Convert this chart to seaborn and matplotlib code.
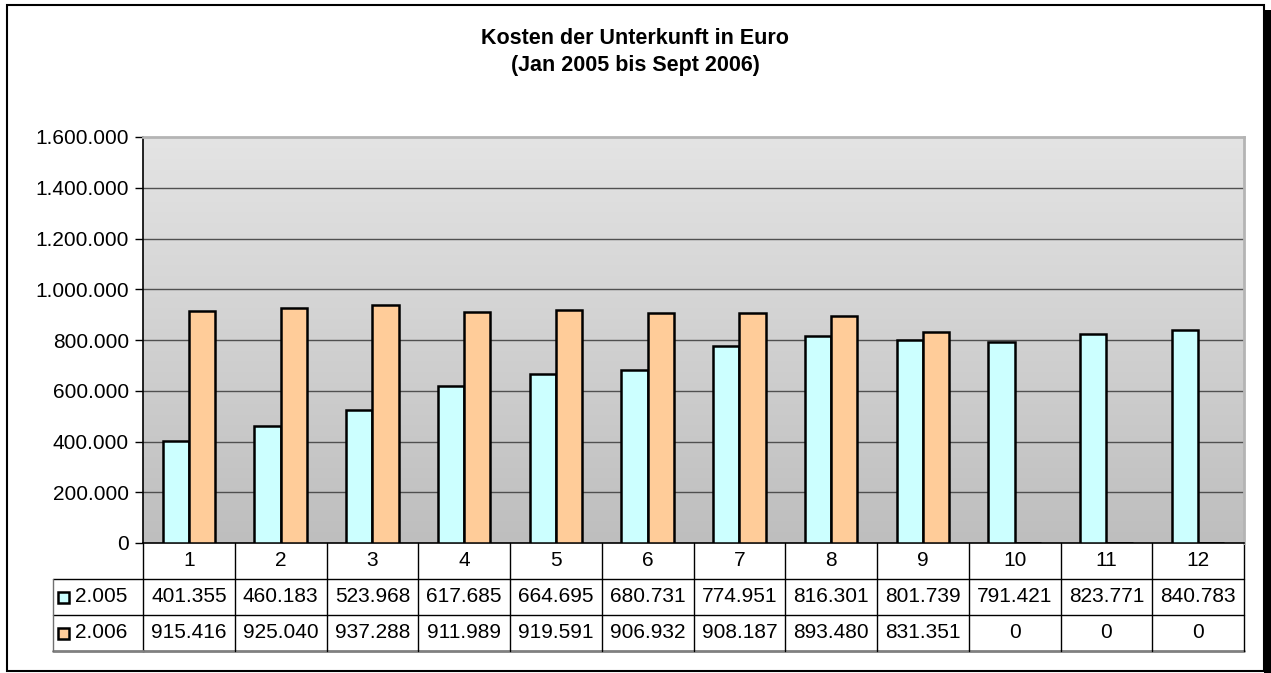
import numpy as np
import pandas as pd
import seaborn as sns
import matplotlib.pyplot as plt
from matplotlib.colors import LinearSegmentedColormap
from matplotlib.patches import Rectangle
from matplotlib.transforms import blended_transform_factory
from matplotlib.ticker import FuncFormatter

# data (Kosten der Unterkunft pro Monat)
monate = [1, 2, 3, 4, 5, 6, 7, 8, 9, 10, 11, 12]
kosten_2005 = [401355, 460183, 523968, 617685, 664695, 680731,
               774951, 816301, 801739, 791421, 823771, 840783]
kosten_2006 = [915416, 925040, 937288, 911989, 919591, 906932,
               908187, 893480, 831351, 0, 0, 0]
serien = ["2.005", "2.006"]
farben = ["#CCFFFF", "#FFCC99"]
y_ticks = [0, 200000, 400000, 600000, 800000, 1000000, 1200000, 1400000, 1600000]


def de_zahl(v):
    # deutsches tausender-trennzeichen
    return f"{int(v):,}".replace(",", ".")


df = pd.DataFrame({
    "monat": [str(m) for m in monate] * 2,
    "kosten": kosten_2005 + kosten_2006,
    "jahr": [serien[0]] * 12 + [serien[1]] * 12,
})

sns.set_style("white")
plt.rcParams["font.family"] = ["Liberation Sans", "DejaVu Sans"]
plt.rcParams["text.color"] = "black"

W, H = 1271, 673
fig = plt.figure(figsize=(W / 100, H / 100), dpi=100)

# plot area in pixel coordinates
left, right, top, bottom = 143, 1244, 137, 543
ax = fig.add_axes([left / W, 1 - bottom / H, (right - left) / W, (bottom - top) / H])

sns.barplot(data=df, x="monat", y="kosten", hue="jahr", palette=farben,
            saturation=1, edgecolor="black", linewidth=1.8, width=0.57, ax=ax,
            legend=False, zorder=3)

# gradient background, light at top, darker at bottom
grad = np.linspace(0, 1, 256).reshape(-1, 1)
cmap = LinearSegmentedColormap.from_list("g", ["#E4E4E4", "#BEBEBE"])
ax.imshow(grad, cmap=cmap, aspect="auto", origin="upper",
          extent=(-0.5, len(monate) - 0.5, 0, 1600000), zorder=0)
ax.set_xlim(-0.5, len(monate) - 0.5)
ax.set_ylim(0, 1600000)

ax.set_yticks(y_ticks)
ax.yaxis.set_major_formatter(FuncFormatter(lambda v, p: de_zahl(v)))
ax.tick_params(axis="y", labelsize=15, length=6, width=1, direction="out",
               left=True, pad=4, colors="black")
ax.set_xticks([])
ax.set_xlabel("")
ax.set_ylabel("")
for y in y_ticks[1:-1]:
    ax.axhline(y, color="#505050", lw=1, zorder=1)

ax.spines["left"].set_color("black")
ax.spines["left"].set_linewidth(1.2)
ax.spines["bottom"].set_color("black")
ax.spines["bottom"].set_linewidth(1.2)
ax.spines["top"].set_color("#B4B4B4")
ax.spines["top"].set_linewidth(2)
ax.spines["right"].set_color("#B4B4B4")
ax.spines["right"].set_linewidth(2)

# title
fig.text(635 / W, 1 - 52 / H, "Kosten der Unterkunft in Euro\n(Jan 2005 bis Sept 2006)",
         ha="center", va="center", fontsize=15.5, fontweight="bold",
         linespacing=1.35, color="black")

# data table below the plot
def fy(y):
    return 1 - y / H

tr = blended_transform_factory(ax.transData, fig.transFigure)
x0, x1 = -0.5, len(monate) - 0.5
lab_left = 53 / W

ax.plot([x0, x1], [fy(579)] * 2, color="black", lw=1, transform=tr, clip_on=False)
ax.plot([x0, x1], [fy(615)] * 2, color="black", lw=1, transform=tr, clip_on=False)
ax.plot([x0, x1], [fy(651)] * 2, color="#808080", lw=2, transform=tr, clip_on=False)
for i in range(len(monate) + 1):
    ax.plot([i - 0.5] * 2, [fy(543), fy(651)], color="black", lw=1,
            transform=tr, clip_on=False)
# row-label cells
fig.add_artist(plt.Line2D([lab_left, left / W], [fy(579)] * 2, color="black", lw=1))
fig.add_artist(plt.Line2D([lab_left, left / W], [fy(615)] * 2, color="black", lw=1))
fig.add_artist(plt.Line2D([lab_left, left / W], [fy(651)] * 2, color="#808080", lw=2))
fig.add_artist(plt.Line2D([lab_left] * 2, [fy(579), fy(651)], color="#707070", lw=1))

for i, m in enumerate(monate):
    ax.text(i, fy(561), str(m), transform=tr, ha="center", va="center", fontsize=15)
    ax.text(i, fy(597), de_zahl(kosten_2005[i]), transform=tr, ha="center",
            va="center", fontsize=15)
    ax.text(i, fy(633), de_zahl(kosten_2006[i]), transform=tr, ha="center",
            va="center", fontsize=15)

for k, (name, col) in enumerate(zip(serien, farben)):
    yc = 597 + 36 * k
    fig.add_artist(Rectangle((58 / W, fy(yc + 6)), 11 / W, 11 / H, facecolor=col,
                             edgecolor="black", lw=1.8, transform=fig.transFigure))
    fig.text(75 / W, fy(yc), name, ha="left", va="center", fontsize=15)

# chart frame with shadow
fig.add_artist(Rectangle((1264 / W, 0), 7 / W, fy(10), facecolor="black",
                         edgecolor="none", transform=fig.transFigure))
fig.add_artist(Rectangle((7 / W, fy(671)), 1257 / W, (671 - 5) / H, facecolor="none",
                         edgecolor="black", lw=1.5, transform=fig.transFigure))

fig.savefig("out.png", dpi=100)
